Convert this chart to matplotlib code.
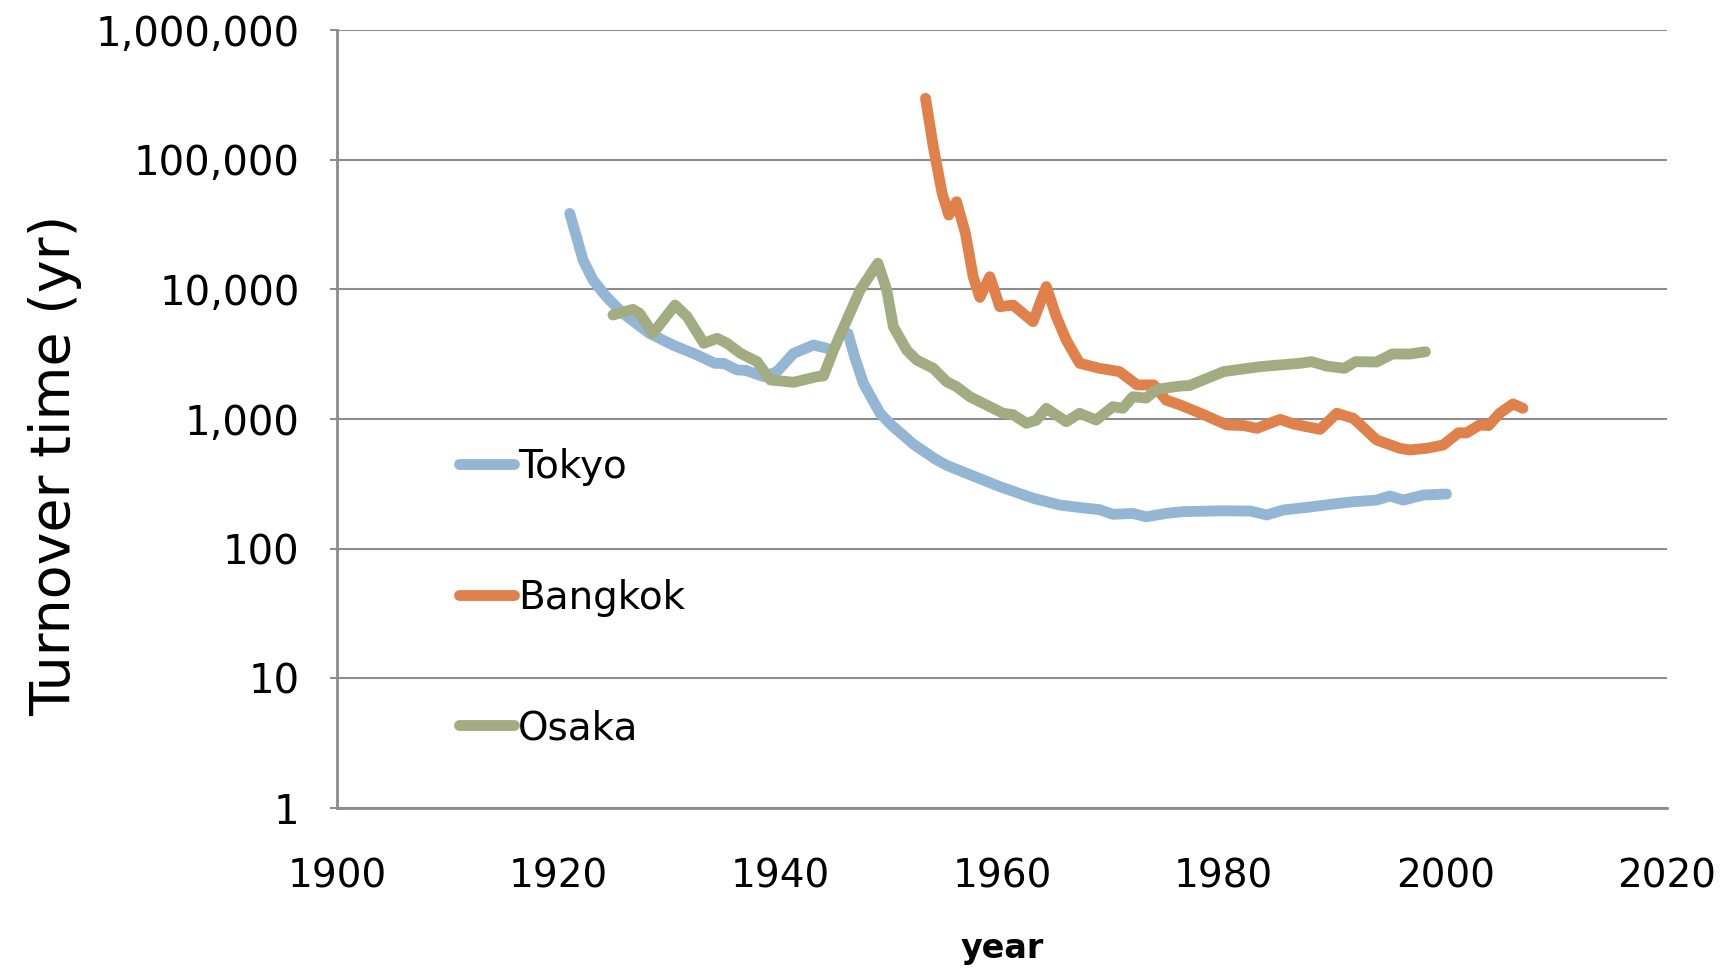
import numpy as np
import matplotlib
matplotlib.use("Agg")
import matplotlib.pyplot as plt
from matplotlib.ticker import FuncFormatter, FixedLocator

# ---------------- data ----------------
tokyo_years = [1921.0, 1921.6, 1922.2, 1923.1, 1924.3, 1925.8, 1928.2, 1930.3, 1932.5,
               1934.1, 1934.9, 1936.1, 1936.9, 1938.5, 1939.7, 1941.2, 1943.0, 1944.2,
               1945.0,
               1946.1, 1946.7, 1947.5, 1949.0, 1950.0, 1951.0, 1952.0, 1953.0, 1954.0,
               1955.0, 1956.8, 1959.8, 1962.8, 1965.2, 1967.6, 1968.8, 1970.0, 1971.8,
               1973.0, 1974.8, 1976.3, 1980.0, 1982.4, 1983.9, 1985.4, 1987.5, 1989.9,
               1991.7, 1993.8, 1995.0, 1996.2, 1998.0, 2000.1]
tokyo_values = [38500, 25500, 16800, 11800, 8770, 6530, 4570, 3720, 3115,
                2685, 2685, 2390, 2370, 2120, 2320, 3210, 3720, 3510,
                np.nan,
                4570, 3020, 1880, 1107, 900, 760, 640, 560, 490,
                440, 381, 301, 245, 217, 205, 200, 184, 187,
                176, 187, 193, 196, 195, 182, 199, 208, 221,
                230, 237, 255, 237, 259, 264]

bangkok_years = [1953.1, 1953.8, 1954.6, 1955.2, 1955.9, 1956.7, 1957.4, 1958.0, 1958.9,
                 1959.8, 1961.0, 1962.8, 1964.0, 1964.9, 1965.8, 1967.0, 1968.8, 1970.6,
                 1972.2, 1973.7, 1974.8, 1976.1, 1977.9, 1980.3, 1981.8, 1983.0, 1985.1,
                 1986.3, 1988.7, 1990.2, 1991.7, 1993.8, 1995.9, 1996.8, 1998.3, 1999.8,
                 2001.2, 2001.9, 2003.1, 2003.9, 2004.9, 2006.1, 2007.0]
bangkok_values = [297000, 126000, 55000, 37400, 47400, 27000, 12500, 8670, 12500,
                  7350, 7560, 5630, 10500, 6150, 4060, 2690, 2460, 2320,
                  1830, 1830, 1400, 1280, 1107, 900, 890, 848, 994,
                  914, 832, 1107, 1012, 689, 594, 577, 594, 630,
                  784, 780, 900, 890, 1107, 1306, 1210]

osaka_years = [1924.9, 1926.7, 1927.3, 1928.5, 1930.5, 1931.6, 1933.1, 1934.3, 1935.2,
               1936.4, 1937.9, 1939.1, 1941.2, 1943.3, 1943.9, 1944.8, 1947.2, 1948.8,
               1949.6, 1950.2, 1951.4, 1952.3, 1953.8, 1955.0, 1955.9, 1957.1, 1958.3,
               1960.1, 1961.0, 1962.2, 1963.1, 1964.0, 1965.8, 1967.0, 1968.5, 1970.0,
               1970.9, 1971.8, 1973.0, 1974.0, 1976.1, 1976.9, 1980.0, 1983.3, 1986.9,
               1987.9, 1989.3, 1990.9, 1991.9, 1993.8, 1995.2, 1996.8, 1998.2]
osaka_values = [6340, 7010, 6530, 4570, 7560, 6150, 3835, 4190, 3835,
                3210, 2770, 2000, 1920, 2120, 2150, 3400, 9890, 15900,
                9890, 5150, 3400, 2850, 2460, 1940, 1775, 1485, 1320,
                1107, 1080, 927, 980, 1208, 953, 1107, 982, 1244,
                1210, 1485, 1450, 1695, 1797, 1810, 2320, 2535, 2690,
                2770, 2560, 2460, 2770, 2750, 3170, 3170, 3300]

series_names = ["Tokyo", "Bangkok", "Osaka"]
series_colors = ["#94b6d5", "#e0804a", "#a3ab80"]

x_ticks = [1900, 1920, 1940, 1960, 1980, 2000, 2020]
y_ticks = [1, 10, 100, 1000, 10000, 100000, 1000000]

# ---------------- figure ----------------
W, H = 1735, 971
fig = plt.figure(figsize=(W / 100, H / 100), dpi=100)
left, right, top, bottom = 337, 1667, 30, 808
ax = fig.add_axes([left / W, 1 - bottom / H, (right - left) / W, (bottom - top) / H])

lw = 7.8
for yrs, vals, name, col in zip([tokyo_years, bangkok_years, osaka_years],
                                [tokyo_values, bangkok_values, osaka_values],
                                series_names, series_colors):
    ax.plot(yrs, vals, color=col, lw=lw, label=name,
            solid_capstyle="round", solid_joinstyle="round", zorder=3)

ax.set_yscale("log")
ax.set_ylim(1, 1000000)
ax.set_xlim(1900, 2020)
ax.xaxis.set_major_locator(FixedLocator(x_ticks))
ax.yaxis.set_major_locator(FixedLocator(y_ticks))
ax.yaxis.set_minor_locator(FixedLocator([]))
ax.yaxis.set_major_formatter(FuncFormatter(lambda v, p: f"{v:,.0f}"))

grid_col = "#8c8c8c"
ax.grid(axis="y", color=grid_col, lw=1.5, zorder=1)
for s in ["top", "right"]:
    ax.spines[s].set_visible(False)
for s in ["left", "bottom"]:
    ax.spines[s].set_color(grid_col)
    ax.spines[s].set_linewidth(2)

tick_font = "DejaVu Sans"
ax.tick_params(axis="y", length=5, width=1.5, color=grid_col, pad=22,
               labelsize=29, labelcolor="black")
ax.tick_params(axis="x", length=0, pad=36, labelsize=28, labelcolor="black")
for lab in ax.get_xticklabels() + ax.get_yticklabels():
    lab.set_family(tick_font)

ylab = ax.set_ylabel("Turnover time (yr)", fontsize=40, family=tick_font)
ylab.set_va("center")
ax.yaxis.set_label_coords(-0.212, 0.441)
xlab = ax.set_xlabel("year", fontsize=24, fontweight="bold", family=tick_font)
xlab.set_va("center")
ax.xaxis.set_label_coords(0.5, -0.181)

leg = ax.legend(loc="center left", bbox_to_anchor=(0.0917, 0.2705),
                frameon=False, borderpad=0, borderaxespad=0,
                handlelength=1.42, handletextpad=0.1, labelspacing=2.38,
                prop={"family": tick_font, "size": 28})

fig.savefig("out.png", dpi=100)
